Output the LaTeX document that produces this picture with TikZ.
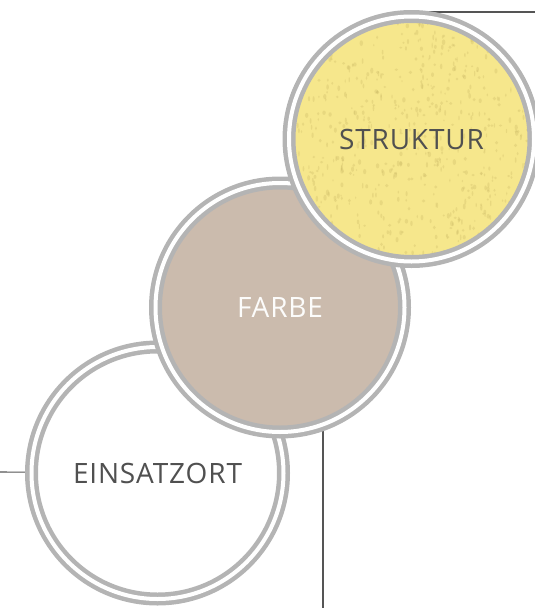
\documentclass[tikz,border=0pt]{standalone}
\usepackage{fontspec}
\setmainfont[LetterSpace=3]{Open Sans}
\usetikzlibrary{backgrounds}
\definecolor{ringgrau}{HTML}{B4B4B4}
\definecolor{strukturgelb}{HTML}{F6E78C}
\definecolor{strukturfleck}{HTML}{C9B764}
\definecolor{farbebeige}{HTML}{CBBBAD}
\definecolor{textgrau}{HTML}{505050}
\definecolor{liniengrau}{HTML}{555555}
\begin{document}
\begin{tikzpicture}[x=1pt,y=-1pt,
		ring/.style={circle,draw=ringgrau,line width=4.5pt,double=white,double distance=4pt,inner sep=0pt},
		guide/.style={draw=liniengrau,line width=1.1pt},
		font=\fontsize{28}{30}\selectfont]
	\useasboundingbox (0,0) rectangle (535,608);
	\node[ring,fill=white,minimum size=252pt,text=textgrau] (einsatzort) at (157.5,473) {EINSATZORT};
	\node[ring,fill=farbebeige,minimum size=249pt,text=white!95!farbebeige] (farbe) at (280,307.5) {FARBE};
	% Struktur: gelber Putz mit Flecken
	\coordinate (smitte) at (411.5,139);
	\fill[strukturgelb] (smitte) circle (122.5);
	\begin{scope}
		\clip (smitte) circle (120);
		\pgfmathsetseed{11}
		\foreach \i in {1,...,700}
			\fill[strukturfleck,opacity=0.3] ([shift={(rand*120,rand*120)}]smitte) ellipse ({0.6+rnd*1.2} and {1+rnd*2});
	\end{scope}
	\node[ring,minimum size=245pt,text=textgrau] (struktur) at (smitte) {STRUKTUR};
	\coordinate (oben) at (535,12);
	\coordinate (links) at (0,472);
	\coordinate (unten) at (323,608);
	\begin{scope}[on background layer]
		\draw[guide] (struktur) |- (oben);
		\draw[guide] (einsatzort) -- (links);
		\draw[guide] (unten |- farbe) -- (unten);
	\end{scope}
\end{tikzpicture}
\end{document}
